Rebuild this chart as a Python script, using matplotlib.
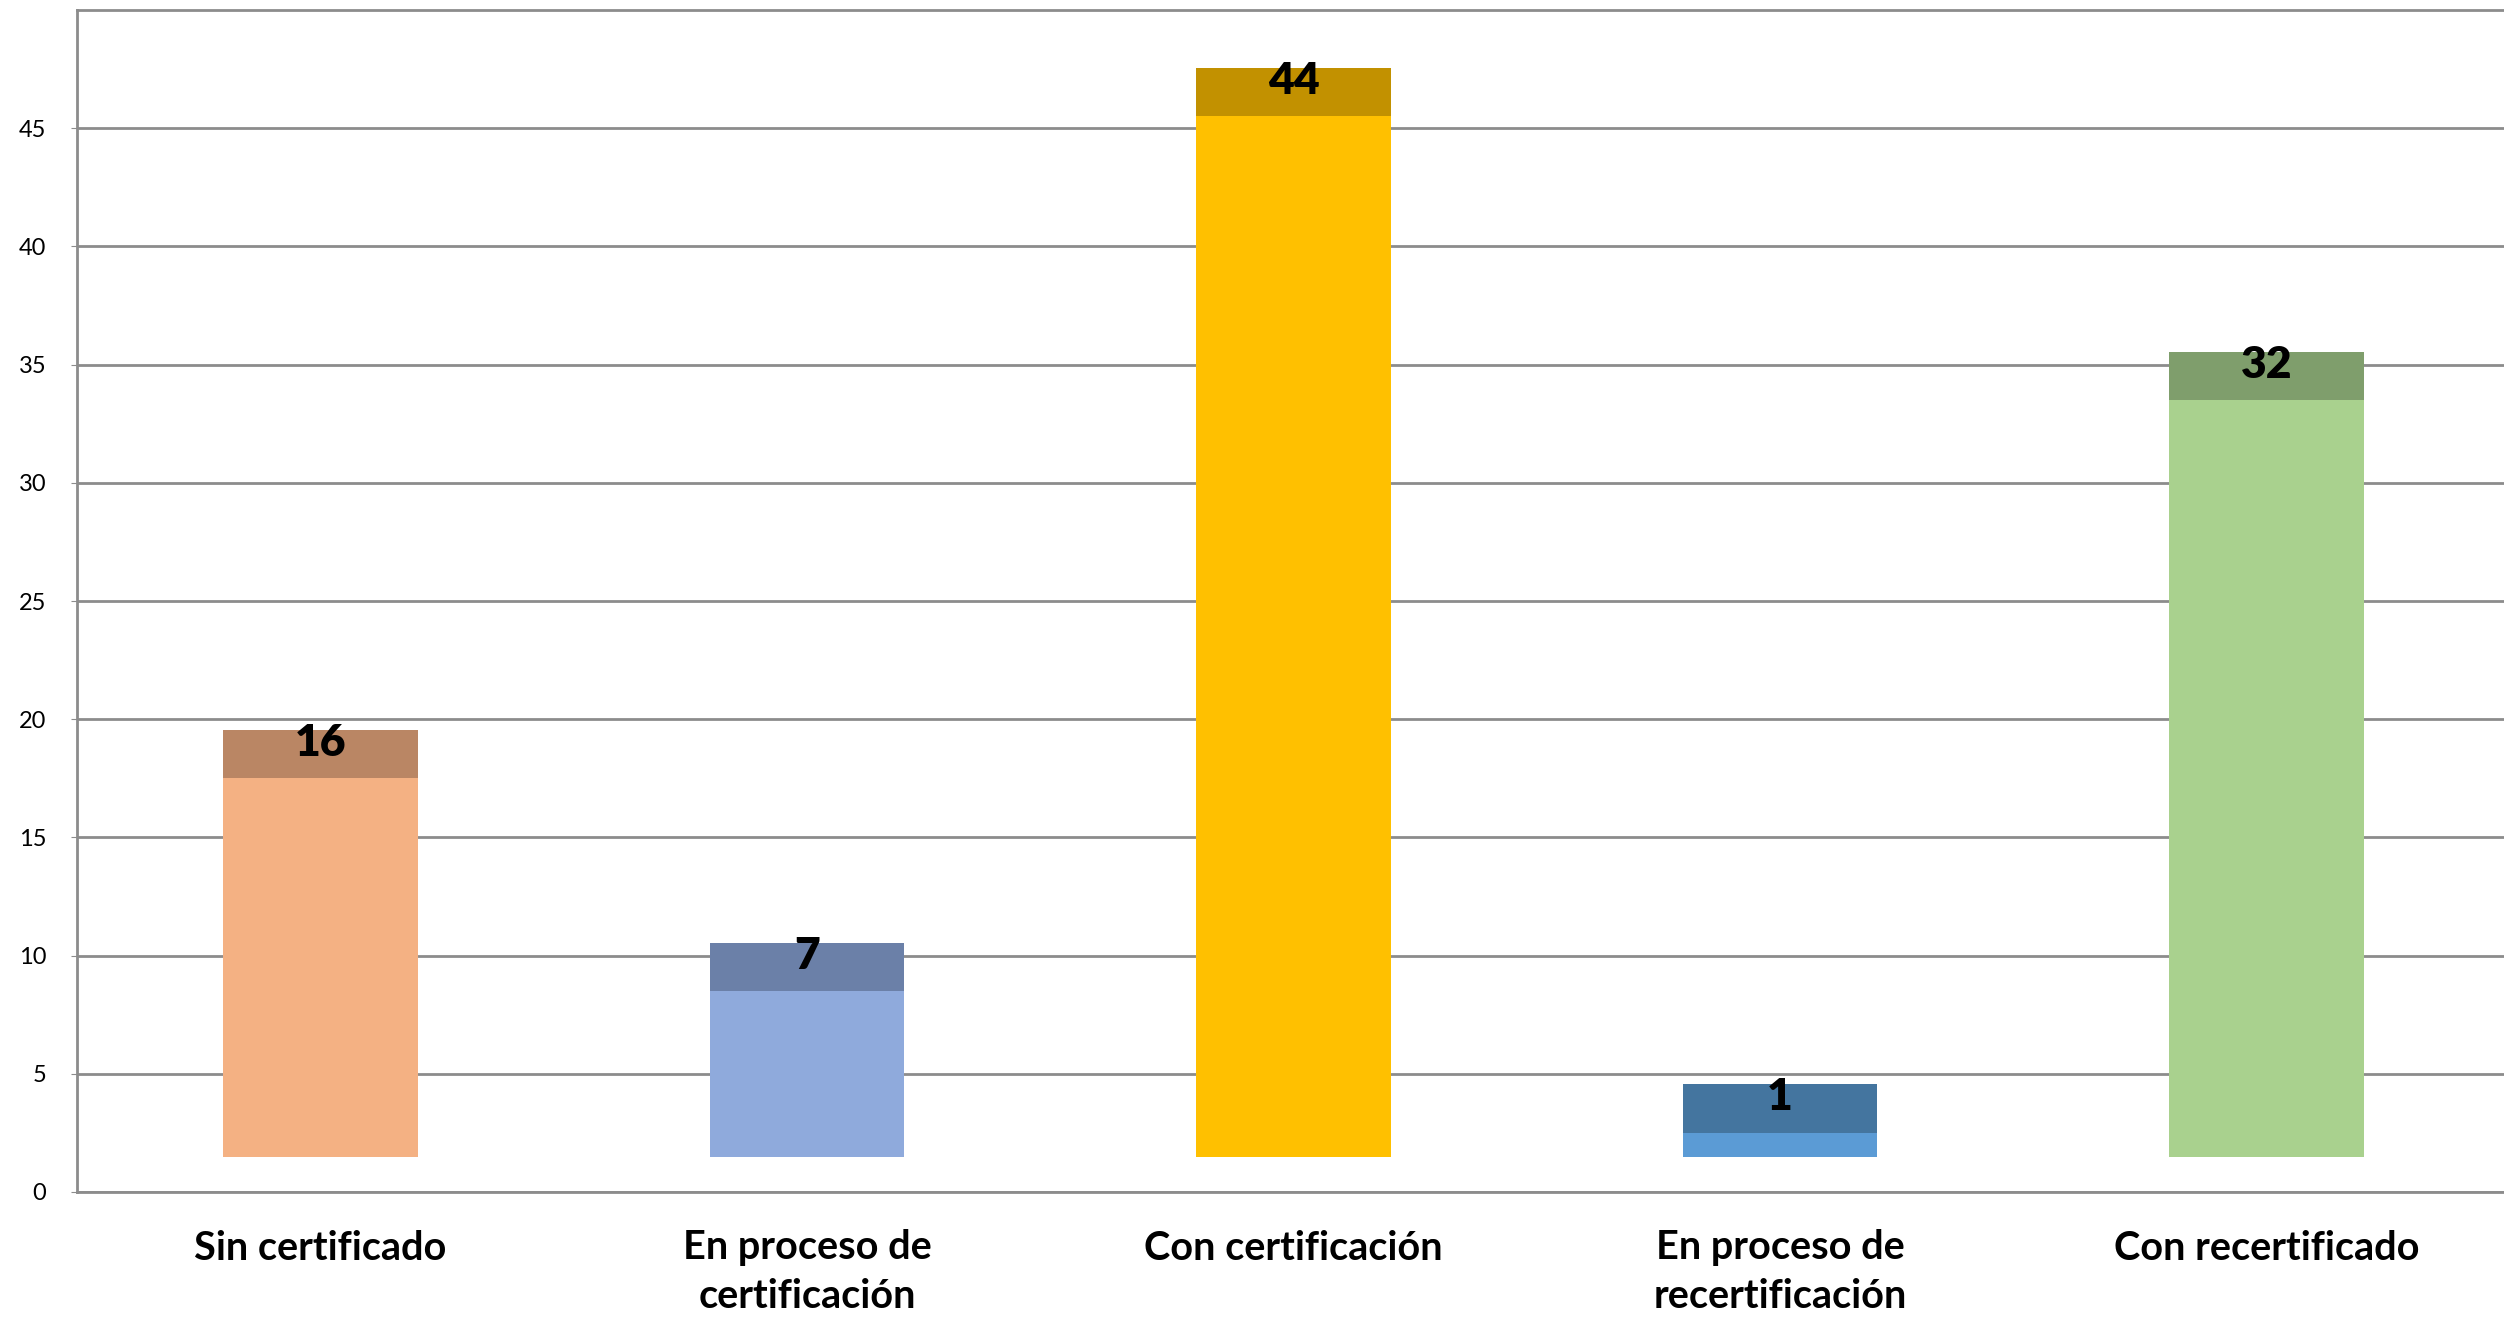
import numpy as np
import matplotlib.pyplot as plt

categorias = ['Sin certificado', 'En proceso de\ncertificación', 'Con certificación',
              'En proceso de\nrecertificación', 'Con recertificado']
valores = [16, 7, 44, 1, 32]
colores = ['#F4B183', '#8FAADC', '#FFC000', '#5B9BD5', '#A9D18E']
colores_tapa = ['#BA8664', '#6B80A8', '#C29100', '#44759F', '#7F9E6C']

plt.rcParams['font.family'] = ['Lato', 'DejaVu Sans']

fig = plt.figure(figsize=(25.04, 13.19), dpi=100)
ax = fig.add_axes([77 / 2504, 1 - 1192 / 1319, 2433 / 2504, 1182 / 1319])

x = np.arange(len(categorias))
base = 1.5      # desplazamiento del efecto 3D
tapa = 2.05     # altura de la cara superior
ancho = 0.4

ax.bar(x, valores, width=ancho, bottom=base, color=colores, zorder=3)
ax.bar(x, tapa, width=ancho, bottom=np.array(valores) + base, color=colores_tapa, zorder=3)

for xi, v in zip(x, valores):
    ax.text(xi, v + base + tapa + 0.3, str(v), ha='center', va='top',
            fontsize=32, fontweight='heavy', zorder=4)

ax.set_xlim(-0.5, 4.5)
ax.set_ylim(0, 50)
ax.set_yticks(np.arange(0, 50, 5))
ax.set_xticks(x)
ax.set_xticklabels(categorias, fontsize=28.5, fontweight='bold', linespacing=1.4)
ax.tick_params(axis='x', length=0, pad=27)
ax.tick_params(axis='y', labelsize=17, length=4, color='#8C8C8C', pad=18)

ax.grid(axis='y', color='#8C8C8C', linewidth=2, zorder=0)
for s in ax.spines.values():
    s.set_color('#8C8C8C')
    s.set_linewidth(2)

fig.savefig('out.png', dpi=100)
